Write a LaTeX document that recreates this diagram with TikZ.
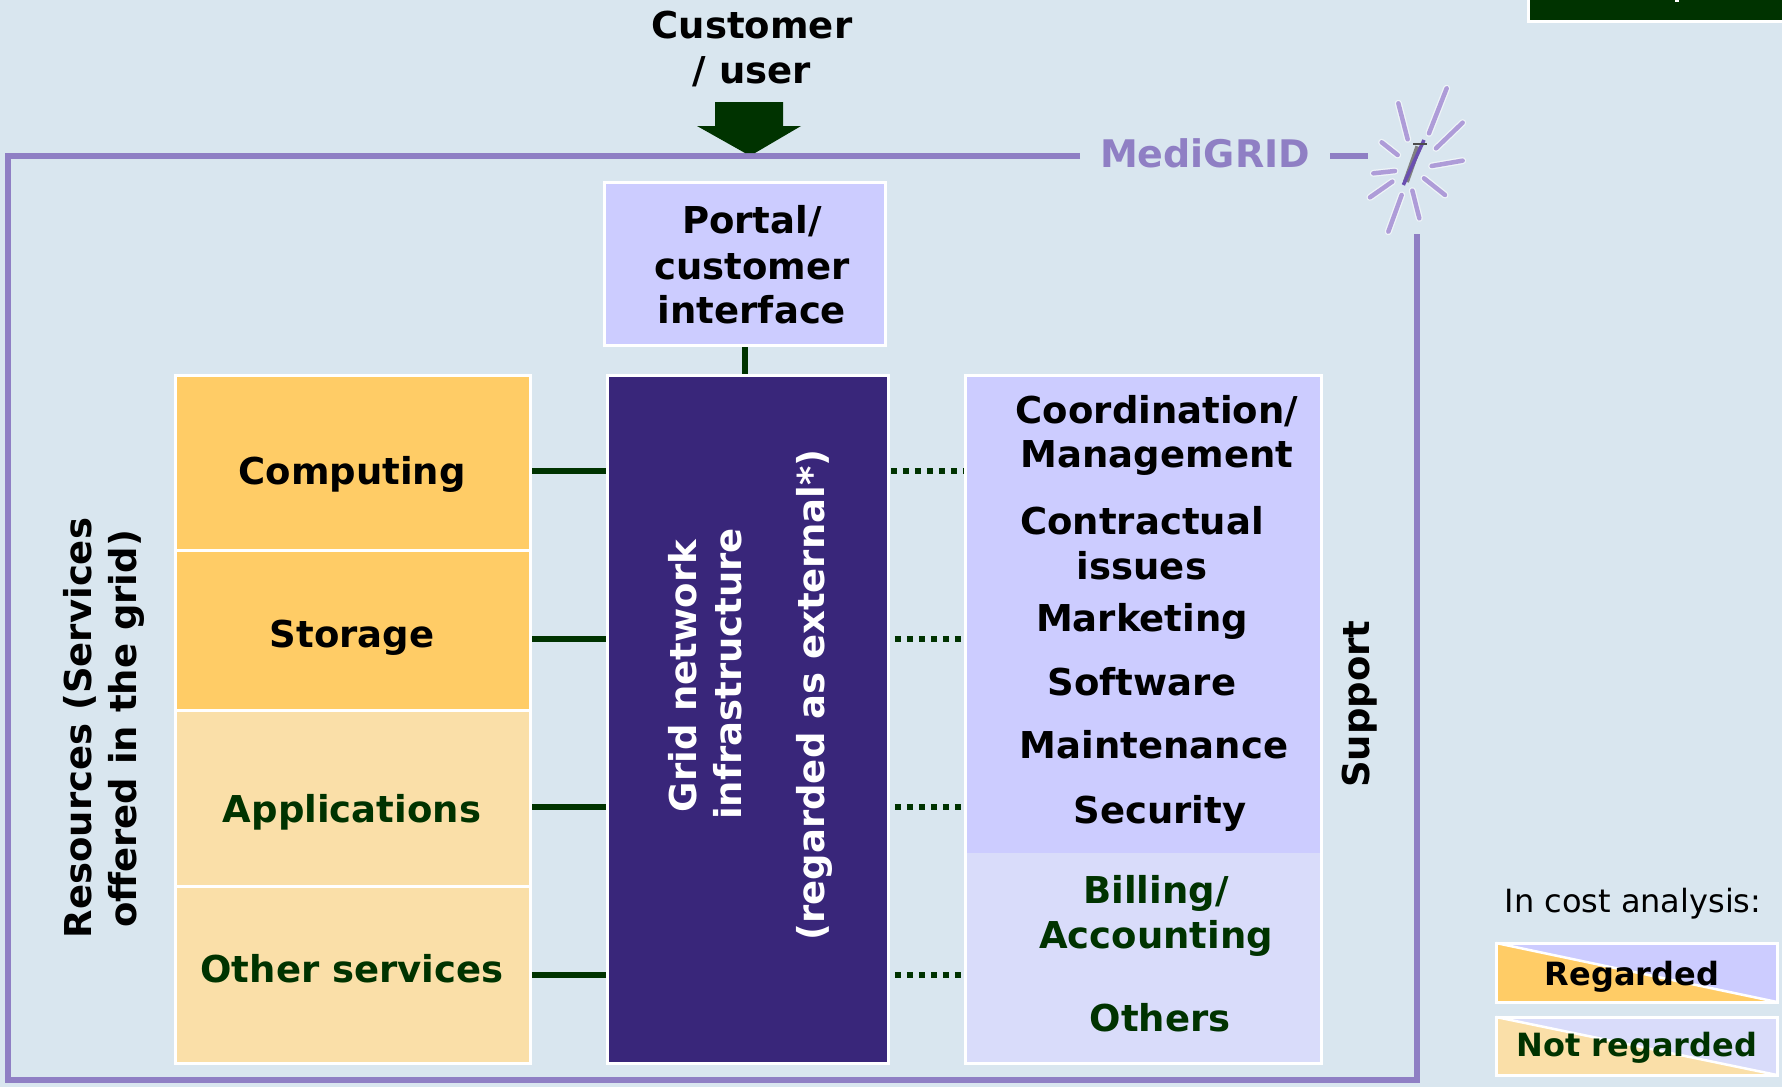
\documentclass[tikz,border=0pt]{standalone}
\usepackage{fontspec}
\setmainfont{DejaVu Sans}
\usetikzlibrary{shapes.geometric}
\definecolor{bgc}{HTML}{D9E6EF}
\definecolor{framec}{HTML}{8F7FC4}
\definecolor{orangec}{HTML}{FFCC66}
\definecolor{lorangec}{HTML}{FADFA8}
\definecolor{lavc}{HTML}{CCCCFF}
\definecolor{llavc}{HTML}{D9DCFA}
\definecolor{gridc}{HTML}{39267A}
\definecolor{greenc}{HTML}{003300}
\definecolor{rayc}{HTML}{AE9CD8}
\definecolor{wandc}{HTML}{6A4FB0}
\tikzset{
  x=1pt,y=-1pt,
  boxn/.style={draw=white,line width=3pt,inner sep=0pt,outer sep=0pt},
  lab/.style={inner sep=0pt,outer sep=0pt,font=\fontsize{37}{44}\selectfont\bfseries,text height=34.5pt,text depth=6pt,align=center},
  glab/.style={lab,text=greenc},
  frameln/.style={draw=framec,line width=6pt},
  conn/.style={draw=greenc,line width=6pt},
  dotconn/.style={draw=greenc,line width=6pt,dash pattern=on 6pt off 6pt},
  ray/.style={line width=7pt,draw=white,opacity=0.6,line cap=round},
  rayin/.style={line width=4.5pt,draw=rayc,line cap=round},
}
\begin{document}
\begin{tikzpicture}
\useasboundingbox (0,0) rectangle (1782,1087);
\fill[bgc] (0,0) rectangle (1782,1087);
% top right cut off box
\node[boxn,fill=greenc,minimum width=264pt,minimum height=30pt] (tab) at (1660,6) {};
\fill[white] (1675,0) rectangle (1679,2);
% frame
\coordinate (fa) at (1080,156);
\coordinate (fb) at (1368,156);
\coordinate (fc) at (1330,156);
\coordinate (fd) at (1417,234);
\draw[frameln,line join=miter] (fa) -- (8,156) -- (8,1080) -- (1417,1080) -- (fd);
\draw[frameln] (fc) -- (fb);
\node[lab,text=framec,font=\fontsize{38}{44}\selectfont\bfseries] (medi) at (1205,153) {MediGRID};
% customer
\node[lab] (cust) at (752,24) {Customer};
\node[lab] (user) at (752,69) {/ user};
\fill[greenc] (715,102) -- (783,102) -- (783,126) -- (801,126) -- (755,153) -- (745,153) -- (697,126) -- (715,126) -- cycle;
% boxes
\node[boxn,fill=lavc,minimum width=281pt,minimum height=163pt] (portal) at (744.5,264) {};
\node[boxn,fill=orangec,minimum width=355pt,minimum height=175pt] (comp) at (353,462.7) {};
\node[boxn,fill=orangec,minimum width=355pt,minimum height=160pt] (stor) at (353,630) {};
\node[boxn,fill=lorangec,minimum width=355pt,minimum height=176pt] (appl) at (353,798) {};
\node[boxn,fill=lorangec,minimum width=355pt,minimum height=177pt] (other) at (353,974.5) {};
\node[boxn,fill=gridc,minimum width=281.5pt,minimum height=688pt] (grid) at (748,719) {};
\node[boxn,fill=lavc,minimum width=355.5pt,minimum height=688pt] (supp) at (1143.25,719) {};
\fill[llavc] (967,853) rectangle (1319.5,1061.5);
% connectors
\coordinate (c1) at (0,470.5);
\coordinate (c2) at (0,639);
\coordinate (c3) at (0,807);
\coordinate (c4) at (0,975);
\draw[conn] ([yshift=-1.5pt]portal.south -| 744.7,0) -- ([yshift=1.5pt]grid.north -| 744.7,0);
\draw[conn] (comp.east |- c1) ++(1.5,0) -- ([xshift=-1pt]grid.west |- c1);
\draw[conn] (stor.east |- c2) ++(1.5,0) -- ([xshift=-1pt]grid.west |- c2);
\draw[conn] (appl.east |- c3) ++(1.5,0) -- ([xshift=-1pt]grid.west |- c3);
\draw[conn] (other.east |- c4) ++(1.5,0) -- ([xshift=-1pt]grid.west |- c4);
\draw[dotconn] ([xshift=2.2pt]grid.east |- c1) -- ([xshift=-1.5pt]supp.west |- c1);
\draw[dotconn] ([xshift=6pt]grid.east |- c2) -- ([xshift=-4pt]supp.west |- c2);
\draw[dotconn] ([xshift=6pt]grid.east |- c3) -- ([xshift=-4pt]supp.west |- c3);
\draw[dotconn] ([xshift=6pt]grid.east |- c4) -- ([xshift=-4pt]supp.west |- c4);
% labels
\node[lab] (t1) at (752,219) {Portal/};
\node[lab] (t2) at (752,265) {customer};
\node[lab] (t3) at (752,309) {interface};
\node[lab] (l1) at (352,470) {Computing};
\node[lab] (l2) at (352,633) {Storage};
\node[glab] (l3) at (352,808) {Applications};
\node[glab] (l4) at (352,968) {Other services};
\node[lab,text=white,rotate=90] (g1) at (682,676) {Grid network};
\node[lab,text=white,rotate=90] (g2) at (727,674) {infrastructure};
\node[lab,text=white,rotate=90] (g3) at (810,695) {(regarded as external*)};
\node[lab,rotate=90] (r1) at (77,728) {Resources (Services};
\node[lab,rotate=90] (r2) at (122,729) {offered in the grid)};
\node[lab,rotate=90] (s0) at (1355,704) {Support};
\node[lab] (s1) at (1157,409) {Coordination/};
\node[lab] (s2) at (1157,453) {Management};
\node[lab] (s3) at (1142,520) {Contractual};
\node[lab] (s4) at (1142,565) {issues};
\node[lab] (s5) at (1142,617) {Marketing};
\node[lab] (s6) at (1142,681) {Software};
\node[lab] (s7) at (1154,744) {Maintenance};
\node[lab] (s8) at (1160,809) {Security};
\node[glab] (s9) at (1156,889) {Billing/};
\node[glab] (s10) at (1156,934) {Accounting};
\node[glab] (s11) at (1160,1017) {Others};
% legend
\node[lab,font=\fontsize{32}{37}\selectfont,text height=30pt,text depth=6pt] (leg) at (1633,900) {In cost analysis:};
\node[boxn,fill=lavc,minimum width=281pt,minimum height=59pt] (lb1) at (1636.5,972.5) {};
\fill[orangec] (lb1.north west) -- (lb1.south east) -- (lb1.south west) -- cycle;
\draw[white,line width=2.5pt] (lb1.north west) -- (lb1.south east);
\draw[white,line width=3pt] (lb1.north west) rectangle (lb1.south east);
\node[boxn,fill=llavc,minimum width=281pt,minimum height=58pt] (lb2) at (1636.5,1046) {};
\fill[lorangec] (lb2.north west) -- (lb2.south east) -- (lb2.south west) -- cycle;
\draw[white,line width=2.5pt] (lb2.north west) -- (lb2.south east);
\draw[white,line width=3pt] (lb2.north west) rectangle (lb2.south east);
\node[lab,font=\fontsize{32}{38}\selectfont\bfseries,text height=30pt,text depth=6pt] (lt1) at (1632,973) {Regarded};
\node[glab,font=\fontsize{32}{38}\selectfont\bfseries,text height=30pt,text depth=6pt] (lt2) at (1637,1044) {Not regarded};
% star
\begin{scope}[shift={(1330,0)},x=0.3333pt,y=-0.3333pt]
\foreach \a/\b/\c/\d in {350/265/297/400,398/368/318/445,398/482/305/498,345/585/282/535,268/655/247/572,175/695/215/585,120/592/187/545,130/520/195/513,203/465/155/427,233/418/205/310}{
  \draw[ray] (\a,\b) -- (\c,\d);
  \draw[rayin] (\a,\b) -- (\c,\d);
}
\draw[line width=6pt,draw=black!50] (265,440) -- (228,545);
\draw[line width=3.5pt,draw=wandc] (282,420) -- (220,555);
\draw[line width=2pt,draw=black!70] (250,433) -- (290,433);
\end{scope}
\end{tikzpicture}
\end{document}
